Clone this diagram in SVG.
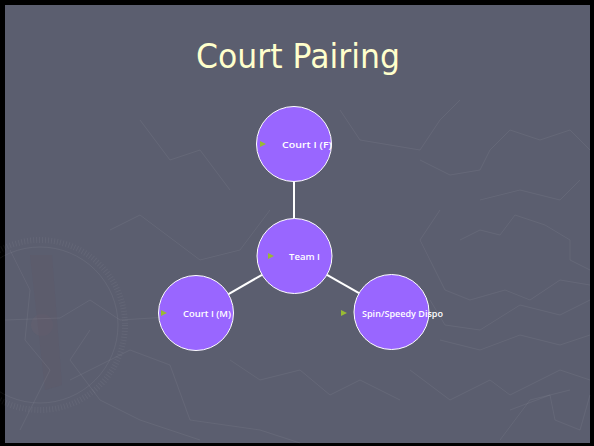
<svg xmlns="http://www.w3.org/2000/svg" width="594" height="446" viewBox="0 0 594 446">
  <defs>
    <style>
      .bg-line { fill: none; stroke: #ffffff; stroke-opacity: 0.06; stroke-width: 1; }
      .node { fill: #9966FF; stroke: #ffffff; stroke-width: 1; }
      .label { font-family: "Open Sans", "Liberation Sans", Arial, sans-serif; font-weight: 600; font-size: 9.5px; fill: #ffffff; }
      .bullet { fill: #99BB33; }
      .conn { stroke: #ffffff; stroke-width: 2; fill: none; }
      .title { font-family: "DejaVu Sans", Verdana, sans-serif; font-size: 33px; fill: #FFFFCC; }
    </style>
  </defs>

  <rect x="0" y="0" width="594" height="446" fill="#000000"/>
  <rect x="5" y="5" width="585" height="438" fill="#5B5E6F"/>

  <g id="background">
    <!-- faint compass -->
    <circle cx="40" cy="325" r="85" fill="none" stroke="#ffffff" stroke-opacity="0.05" stroke-width="6" stroke-dasharray="1 2"/>
    <circle cx="40" cy="325" r="78" class="bg-line"/>
    <circle cx="42" cy="325" r="11" fill="#64606f" fill-opacity="0.6"/>
    <path d="M30 255 L52 255 L62 385 L45 390 Z" fill="#5d5a6a" fill-opacity="0.5"/>
    <!-- faint map lines -->
    <polyline class="bg-line" points="5,320 60,318 90,300 120,320 200,315 230,300"/>
    <polyline class="bg-line" points="110,230 140,215 200,260 240,250 270,210"/>
    <polyline class="bg-line" points="10,250 30,290 25,340 50,370 20,430"/>
    <polyline class="bg-line" points="90,330 70,360 100,400 140,420 200,440"/>
    <polyline class="bg-line" points="70,380 130,350 170,365 190,420 260,430 300,443"/>
    <polyline class="bg-line" points="230,360 260,380 300,370 330,395 360,380 400,400"/>
    <polyline class="bg-line" points="440,210 420,240 430,260 445,290 470,300 505,290 530,300 560,280 590,285"/>
    <polyline class="bg-line" points="460,240 480,230 500,235 515,215 545,225 570,240 570,260 590,270"/>
    <polyline class="bg-line" points="420,160 450,175 480,170 490,150 510,130 540,140 570,130 590,150"/>
    <polyline class="bg-line" points="480,200 520,190 560,200 580,180"/>
    <polyline class="bg-line" points="430,300 445,325 480,330 520,305 560,315 590,300"/>
    <polyline class="bg-line" points="440,340 480,350 520,335 560,345 590,335"/>
    <polyline class="bg-line" points="410,370 450,400 490,380 510,395 560,370 590,380"/>
    <polyline class="bg-line" points="510,410 550,395 555,420 580,430 590,395"/>
    <polyline class="bg-line" points="500,440 530,400 570,390"/>
    <polyline class="bg-line" points="340,110 360,140 420,150 440,120 460,100"/>
    <polyline class="bg-line" points="140,120 170,160 200,150 230,190"/>
  </g>

  <text class="title" x="196" y="68" textLength="204" lengthAdjust="spacingAndGlyphs">Court Pairing</text>

  <g id="connectors">
    <line class="conn" x1="294" y1="181.5" x2="294" y2="218.5"/>
    <line class="conn" x1="262" y1="274.8" x2="228.5" y2="294.2"/>
    <line class="conn" x1="327" y1="274.8" x2="359" y2="293.2"/>
  </g>

  <g id="node-court-f">
    <circle class="node" cx="294" cy="144" r="37.5"/>
    <polygon class="bullet" points="260,141 266,144 260,147"/>
    <text class="label" x="282" y="147.5" textLength="50" lengthAdjust="spacingAndGlyphs">Court I (F)</text>
  </g>

  <g id="node-team">
    <circle class="node" cx="294.5" cy="256" r="37.5"/>
    <polygon class="bullet" points="268,253 274,256 268,259"/>
    <text class="label" x="289" y="259.5" textLength="31" lengthAdjust="spacingAndGlyphs">Team I</text>
  </g>

  <g id="node-court-m">
    <circle class="node" cx="196" cy="313" r="37.5"/>
    <polygon class="bullet" points="161,310 167,313 161,316"/>
    <text class="label" x="183" y="316.5" textLength="48" lengthAdjust="spacingAndGlyphs">Court I (M)</text>
  </g>

  <g id="node-spin">
    <circle class="node" cx="391.5" cy="312" r="37.5"/>
    <polygon class="bullet" points="341,310 347,313 341,316"/>
    <text class="label" x="362" y="316.5" textLength="81" lengthAdjust="spacingAndGlyphs">Spin/Speedy Dispo</text>
  </g>
</svg>
